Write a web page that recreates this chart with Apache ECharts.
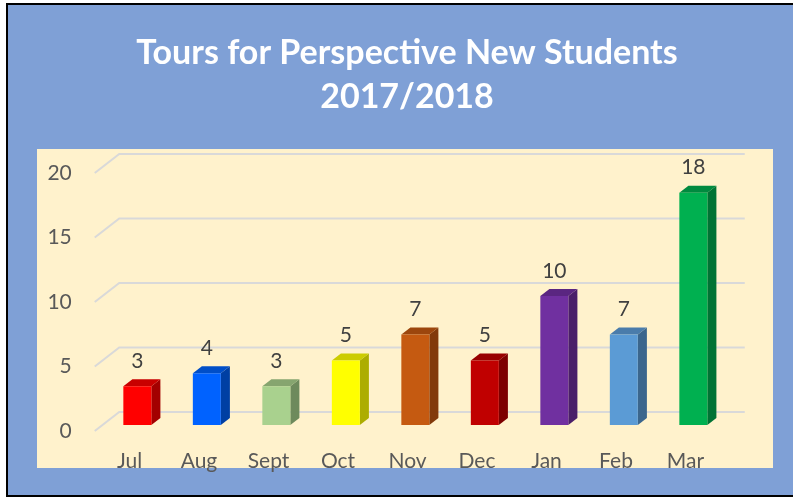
<!DOCTYPE html>
<html>
<head>
<meta charset="utf-8">
<script src="https://cdn.jsdelivr.net/npm/echarts@6/dist/echarts.min.js"></script>
<style>
html,body{margin:0;padding:0;background:#fff;}
#c{width:793px;height:499px;}
</style>
</head>
<body>
<div id="c"></div>
<script>
const categories = ['Jul','Aug','Sept','Oct','Nov','Dec','Jan','Feb','Mar'];
const tours = [3,4,3,5,7,5,10,7,18];
const yTicks = [0,5,10,15,20];
const titleText = 'Tours for Perspective New Students\n2017/2018';

const frontColors = ['#ff0000','#0062ff','#a9d18e','#ffff00','#c55a11','#c00000','#7030a0','#5b9bd5','#00b050'];
const sideColors  = ['#a30000','#003fa3','#6e8a5c','#adad00','#823a0b','#7d0000','#4a1f69','#3b668d','#007334'];
const topColors   = ['#c80000','#004ec8','#86a56f','#cccc00','#9c460d','#980000','#5a2681','#4a7cab','#008a3f'];

const chart = echarts.init(document.getElementById('c'), null, {renderer:'canvas'});
const FONT = 'Lato';
const DX = 24.5, DY = -19;      // full depth offset (front plane -> back wall)
const BF = 0.32, BB = 0.69;     // bar front / back depth fractions
const BW = 28;

chart.setOption({
  animation:false,
  backgroundColor:'#ffffff',
  title:{
    text:titleText,
    left:402, top:26, textAlign:'center',
    textStyle:{color:'#ffffff', fontFamily:FONT, fontWeight:'bold', fontSize:34, lineHeight:44}
  },
  graphic:[
    {type:'rect', z:-20, shape:{x:7,y:4,width:800,height:492}, style:{fill:'#7fa0d6', stroke:'#000000', lineWidth:2}},
    {type:'rect', z:-19, shape:{x:37,y:149,width:736,height:319}, style:{fill:'#fff2cc'}}
  ],
  grid:{left:94.75, right:72.75, top:173, bottom:68},
  xAxis:{
    type:'category', data:categories,
    axisLine:{show:false}, axisTick:{show:false}, splitLine:{show:false},
    axisLabel:{color:'#595959', fontFamily:FONT, fontSize:21, margin:20}
  },
  yAxis:{
    type:'value', min:0, max:20, interval:5,
    axisLine:{show:false}, axisTick:{show:false}, splitLine:{show:false},
    axisLabel:{color:'#595959', fontFamily:FONT, fontSize:21, margin:23}
  },
  series:[
    {
      type:'custom', z:1,
      data:yTicks.map(v=>[0,v]),
      renderItem:function(params, api){
        const cs = params.coordSys;
        const p = api.coord([0, api.value(1)]);
        const y = p[1];
        const x0 = cs.x;
        return {type:'polyline', shape:{points:[[x0,y],[x0+DX,y+DY],[cs.x+cs.width+DX,y+DY]]},
                style:{stroke:'#d9d9d9', lineWidth:2, fill:null}};
      }
    },
    {
      type:'custom', z:3,
      data:tours.map((v,i)=>[i,v]),
      renderItem:function(params, api){
        const i = api.value(0), v = api.value(1);
        const t = api.coord([i, v]), b = api.coord([i, 0]);
        const fx = t[0] + DX*BF - BW/2;
        const ft = t[1] + DY*BF, fb = b[1] + DY*BF;
        const sx = DX*(BB-BF), sy = DY*(BB-BF);
        return {type:'group', children:[
          {type:'polygon', shape:{points:[[fx+BW,ft],[fx+BW+sx,ft+sy],[fx+BW+sx,fb+sy],[fx+BW,fb]]}, style:{fill:sideColors[i]}},
          {type:'polygon', shape:{points:[[fx,ft],[fx+sx,ft+sy],[fx+BW+sx,ft+sy],[fx+BW,ft]]}, style:{fill:topColors[i]}},
          {type:'rect', shape:{x:fx,y:ft,width:BW,height:fb-ft}, style:{fill:frontColors[i]}},
          {type:'text', x:fx+BW/2, y:ft-25, style:{text:String(v), fill:'#404040', font:'21px '+FONT, align:'center', verticalAlign:'middle'}}
        ]};
      }
    }
  ]
});
</script>
</body>
</html>
